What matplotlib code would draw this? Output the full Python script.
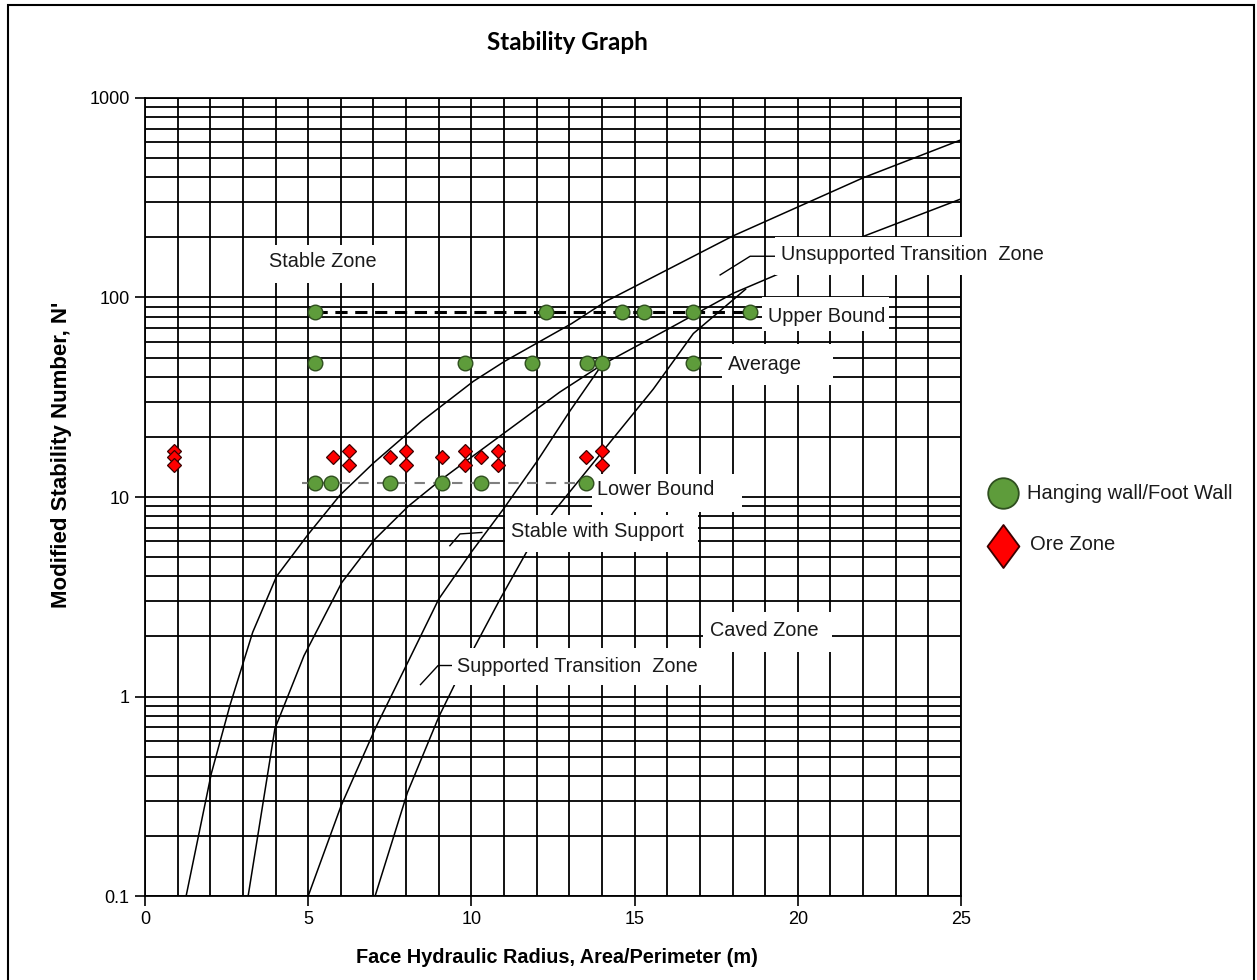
import matplotlib
matplotlib.use("Agg")
import matplotlib.pyplot as plt
from matplotlib.patches import Rectangle
from matplotlib.lines import Line2D
from matplotlib.path import Path
from matplotlib.ticker import FixedLocator, FixedFormatter, NullFormatter

plt.rcParams['font.family'] = ['Liberation Sans', 'DejaVu Sans']

# ---- data -------------------------------------------------------------
# Hanging wall / foot wall observations (hydraulic radius, N')
hw_hr = [5.2, 12.3, 14.6, 15.3, 16.8, 18.55,
         5.2, 9.8, 11.85, 13.55, 14.0, 16.8,
         5.2, 5.7, 7.5, 9.1, 10.3, 13.5]
hw_n = [85, 85, 85, 85, 85, 85,
        47, 47, 47, 47, 47, 47,
        11.8, 11.8, 11.8, 11.8, 11.8, 11.8]

# Ore zone observations
ore_hr = [0.9, 0.9, 0.9, 5.75, 6.25, 6.25, 7.5, 8.0, 8.0,
          9.1, 9.8, 9.8, 10.3, 10.8, 10.8, 13.5, 14.0, 14.0]
ore_n = [17, 15.8, 14.4, 15.8, 17, 14.4, 15.8, 17, 14.4,
         15.8, 17, 14.4, 15.8, 17, 14.4, 15.8, 17, 14.4]

# Bound lines
upper_hr = [5.2, 18.55]
upper_n = [85, 85]
lower_hr = [4.8, 13.5]
lower_n = [11.8, 11.8]

# Zone boundaries of the stability graph
stable_hr = [1.26, 2.03, 2.6, 3.3, 4.03, 5.0, 5.97, 7.0, 8.48, 10.06,
             11.03, 13.07, 14.14, 18.0, 22.0, 25.0]
stable_n = [0.1, 0.41, 0.9, 2.1, 4.0, 6.5, 10.2, 14.8, 24.0, 38,
            48, 74, 96, 203, 398, 617]

transition_hr = [3.16, 3.98, 4.87, 6.03, 7.05, 8.07, 9.04, 10.06, 12.7,
                 14.0, 16.03, 18.02, 19.35, 22.06, 25.0]
transition_n = [0.1, 0.69, 1.6, 3.73, 6.16, 9.0, 12.1, 16.1, 33.5,
                46, 69.5, 105, 130, 204, 312]

support_hr = [5.0, 6.01, 7.07, 8.1, 9.0, 10.0, 10.98, 12.0, 13.02, 14.0]
support_n = [0.1, 0.284, 0.70, 1.54, 3.08, 5.3, 8.7, 15.0, 27.0, 46]

caved_hr = [7.05, 8.04, 9.0, 9.5, 10.88, 11.69, 12.51, 13.33, 15.57, 16.8, 18.4]
caved_n = [0.1, 0.33, 0.79, 1.16, 3.08, 5.3, 8.4, 12.3, 34.7, 66, 110]

# ---- figure -----------------------------------------------------------
W, H = 1257, 980
fig = plt.figure(figsize=(W / 100, H / 100), dpi=100)
ax = fig.add_axes([145 / W, 1 - 896 / H, (961 - 145) / W, (896 - 98) / H])

ax.set_yscale('log')
ax.set_xlim(0, 25)
ax.set_ylim(0.1, 1000)

ax.xaxis.set_major_locator(FixedLocator([0, 5, 10, 15, 20, 25]))
ax.xaxis.set_minor_locator(FixedLocator(range(0, 26)))
ax.yaxis.set_major_locator(FixedLocator([0.1, 1, 10, 100, 1000]))
ax.yaxis.set_major_formatter(FixedFormatter(['0.1', '1', '10', '100', '1000']))
minor_y = [m * 10.0 ** e for e in range(-1, 3) for m in range(2, 10)]
ax.yaxis.set_minor_locator(FixedLocator(minor_y))
ax.yaxis.set_minor_formatter(NullFormatter())

ax.grid(which='both', color='black', linewidth=1.3)
ax.set_axisbelow(True)
ax.tick_params(which='major', length=7, width=1.2, direction='out',
               labelsize=13, pad=4, colors='black')
ax.tick_params(which='minor', length=0)
for sp in ax.spines.values():
    sp.set_color('black')
    sp.set_linewidth(1.3)

# zone boundary curves
for hx, nn in [(stable_hr, stable_n), (transition_hr, transition_n),
               (support_hr, support_n), (caved_hr, caved_n)]:
    ax.plot(hx, nn, color='black', linewidth=1.1, zorder=2)

# bound lines
ax.plot(upper_hr, upper_n, color='black', linewidth=2.2,
        dashes=(4, 2.5), zorder=3)
ax.plot(lower_hr, lower_n, color='#7f7f7f', linewidth=1.5,
        dashes=(5, 4), zorder=3)

# leader lines
ax.plot([17.62, 18.54, 19.3], [129.7, 161, 161], color='black', lw=1.0, zorder=2)
ax.plot([9.34, 9.65, 10.32], [5.7, 6.53, 6.64], color='black', lw=1.0, zorder=2)
ax.plot([8.44, 8.98, 9.4], [1.147, 1.43, 1.43], color='black', lw=1.0, zorder=2)

# zone labels on white boxes
labels = [
    # text, text x, text y, box x0, x1, box y0, y1
    ("Stable Zone", 3.8, 152, 3.55, 7.45, 118, 184),
    ("Unsupported Transition  Zone", 19.5, 164, 19.3, 27.9, 130, 200),
    ("Upper Bound", 19.1, 80, 18.9, 22.8, 68, 100.5),
    ("Average", 17.85, 46, 17.68, 21.08, 36.5, 58.6),
    ("Lower Bound", 13.85, 10.9, 13.7, 18.3, 8.43, 13.1),
    ("Stable with Support", 11.2, 6.7, 11.03, 16.94, 5.33, 8.15),
    ("Supported Transition  Zone", 9.55, 1.42, 9.4, 17.16, 1.147, 1.76),
    ("Caved Zone", 17.3, 2.15, 17.1, 21.05, 1.68, 2.66),
]
for s, tx, ty, x0, x1, y0, y1 in labels:
    ax.add_patch(Rectangle((x0, y0), x1 - x0, y1 - y0, facecolor='white',
                           edgecolor='none', zorder=4, clip_on=False))
    ax.text(tx, ty, s, ha='left', va='center', fontsize=14.3, color='#1a1a1a',
            zorder=5, clip_on=False)

# observations
ax.plot(hw_hr, hw_n, linestyle='none', marker='o', markersize=10.5,
        markerfacecolor='#5e9c3b', markeredgecolor='#2f4f1f',
        markeredgewidth=1.0, zorder=6)
ax.plot(ore_hr, ore_n, linestyle='none', marker='D', markersize=6.8,
        markerfacecolor='#ff0000', markeredgecolor='#3a0000',
        markeredgewidth=0.9, zorder=6)

# axis titles
fig.text(567 / W, 1 - 42 / H, "Stability Graph", ha='center', va='center',
         fontsize=17.5, fontweight='bold', family=['Lato', 'DejaVu Sans'])
fig.text(557 / W, 1 - 957 / H, "Face Hydraulic Radius, Area/Perimeter (m)",
         ha='center', va='center', fontsize=14.3, fontweight='bold')
fig.text(62 / W, 1 - 455 / H, "Modified Stability Number, N'",
         ha='center', va='center', rotation=90, fontsize=16, fontweight='bold')

# legend
kite = Path([(0, 1), (0.74, 0), (0, -1), (-0.74, 0), (0, 1)],
            [Path.MOVETO, Path.LINETO, Path.LINETO, Path.LINETO, Path.CLOSEPOLY])
fig.add_artist(Line2D([1003 / W], [1 - 493 / H], transform=fig.transFigure,
                      marker='o', markersize=22, markerfacecolor='#5e9c3b',
                      markeredgecolor='#2f4f1f', markeredgewidth=1.3,
                      linestyle='none'))
fig.add_artist(Line2D([1003 / W], [1 - 546 / H], transform=fig.transFigure,
                      marker=kite, markersize=31, markerfacecolor='#ff0000',
                      markeredgecolor='#3a0000', markeredgewidth=1.3,
                      linestyle='none'))
fig.text(1027 / W, 1 - 493 / H, "Hanging wall/Foot Wall", ha='left',
         va='center', fontsize=14.5, color='#1a1a1a')
fig.text(1030 / W, 1 - 545 / H, "Ore Zone", ha='left', va='center',
         fontsize=14.5, color='#1a1a1a')

# outer frame
fig.add_artist(Rectangle((8 / W, -0.02), (1254 - 8) / W, 1 - 5 / H + 0.02,
                         transform=fig.transFigure, facecolor='none',
                         edgecolor='black', linewidth=1.5))

fig.savefig('out.png', dpi=100)
